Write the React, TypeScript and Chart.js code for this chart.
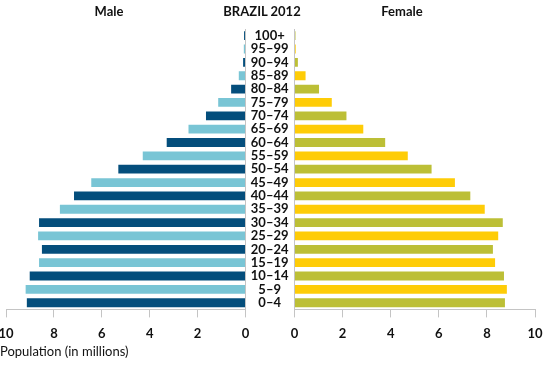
import React, { useEffect, useRef } from 'react';
import { Chart, registerables } from 'chart.js';

Chart.register(...registerables);

const ageGroups = ['100+', '95–99', '90–94', '85–89', '80–84', '75–79', '70–74', '65–69', '60–64', '55–59', '50–54', '45–49', '40–44', '35–39', '30–34', '25–29', '20–24', '15–19', '10–14', '5–9', '0–4'];
const maleValues = [0.06, 0.07, 0.1, 0.28, 0.6, 1.14, 1.65, 2.38, 3.29, 4.29, 5.31, 6.44, 7.16, 7.75, 8.62, 8.66, 8.5, 8.62, 9.01, 9.18, 9.13];
const femaleValues = [0.04, 0.05, 0.14, 0.46, 1.02, 1.55, 2.16, 2.86, 3.77, 4.71, 5.7, 6.67, 7.31, 7.91, 8.66, 8.47, 8.25, 8.34, 8.71, 8.83, 8.75];
const xTickValues = [0, 2, 4, 6, 8, 10];

const FONT = 'Lato, "Noto Sans", sans-serif';
const GRID = '#c4c4c4';
const TEXT = '#111111';
const maleColors = ageGroups.map((_, i) => (i % 2 === 0 ? '#044e7c' : '#79c5d5'));
const femaleColors = ageGroups.map((_, i) => (i % 2 === 0 ? '#bcbf36' : '#fecc07'));

function xAxis(reverse: boolean) {
  return {
    type: 'linear' as const,
    reverse,
    min: 0,
    max: 10,
    afterBuildTicks: (s: any) => {
      s.ticks = xTickValues.map((v) => ({ value: v }));
    },
    afterFit: (s: any) => {
      s.paddingLeft = 0;
      s.paddingRight = 0;
    },
    ticks: {
      font: { family: FONT, size: 13, weight: 'bold' as const },
      color: TEXT,
      padding: 9,
      maxRotation: 0,
    },
    grid: { drawOnChartArea: false, drawTicks: true, tickLength: 8, color: GRID },
    border: { display: true, color: GRID },
  };
}

export default function App() {
  const leftRef = useRef<HTMLCanvasElement>(null);
  const rightRef = useRef<HTMLCanvasElement>(null);

  useEffect(() => {
    const common = {
      indexAxis: 'y' as const,
      responsive: false,
      animation: false as const,
      plugins: { legend: { display: false }, tooltip: { enabled: false } },
    };
    const left = new Chart(leftRef.current!, {
      type: 'bar',
      data: {
        labels: ageGroups,
        datasets: [{ data: maleValues, backgroundColor: maleColors, barPercentage: 0.66, categoryPercentage: 1 }],
      },
      options: {
        ...common,
        layout: { padding: { top: 29, bottom: 14, left: 6, right: 4.5 } },
        scales: {
          x: xAxis(true),
          y: {
            position: 'right',
            ticks: { display: false },
            grid: { display: false, drawTicks: false },
            border: { display: true, color: GRID },
          },
        },
      },
    });
    const right = new Chart(rightRef.current!, {
      type: 'bar',
      data: {
        labels: ageGroups,
        datasets: [{ data: femaleValues, backgroundColor: femaleColors, barPercentage: 0.66, categoryPercentage: 1 }],
      },
      options: {
        ...common,
        layout: { padding: { top: 29, bottom: 14, left: 0, right: 8 } },
        scales: {
          x: xAxis(false),
          y: {
            position: 'left',
            afterFit: (s: any) => {
              s.width = 49.5;
            },
            ticks: {
              autoSkip: false,
              crossAlign: 'center',
              padding: 6,
              font: { family: FONT, size: 13, weight: 'bold' },
              color: TEXT,
            },
            grid: { display: false, drawTicks: false },
            border: { display: true, color: GRID },
          },
        },
      },
    });
    return () => {
      left.destroy();
      right.destroy();
    };
  }, []);

  const head: React.CSSProperties = {
    position: 'absolute',
    top: 3,
    width: 120,
    textAlign: 'center',
    fontFamily: FONT,
    fontWeight: 'bold',
    fontSize: 13,
    lineHeight: '16px',
    color: TEXT,
  };

  return (
    <div style={{ position: 'absolute', left: 0, top: 0, width: 543, height: 365, background: '#fff' }}>
      <canvas ref={leftRef} width={250} height={365} style={{ position: 'absolute', left: 0, top: 0 }} />
      <canvas ref={rightRef} width={298} height={365} style={{ position: 'absolute', left: 245, top: 0 }} />
      <div style={{ ...head, left: 49 }}>Male</div>
      <div style={{ ...head, left: 202 }}>BRAZIL 2012</div>
      <div style={{ ...head, left: 342 }}>Female</div>
      <div
        style={{
          position: 'absolute',
          left: 0,
          top: 343,
          fontFamily: FONT,
          fontSize: 13,
          lineHeight: '16px',
          color: TEXT,
        }}
      >
        Population (in millions)
      </div>
    </div>
  );
}
